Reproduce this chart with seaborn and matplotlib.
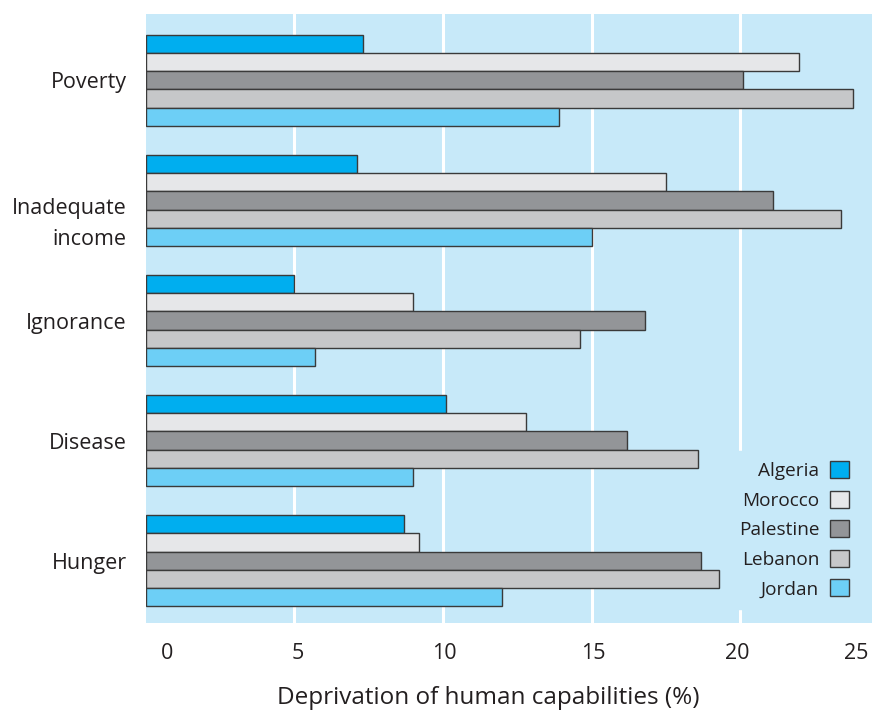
import matplotlib
matplotlib.use("Agg")
import matplotlib.pyplot as plt
import matplotlib.transforms as mtransforms
import seaborn as sns
import pandas as pd

# 데이터
categories = ["Poverty", "Inadequate\nincome", "Ignorance", "Disease", "Hunger"]
countries = ["Algeria", "Morocco", "Palestine", "Lebanon", "Jordan"]
algeria = [7.3, 7.1, 5.0, 10.1, 8.7]
morocco = [22.0, 17.5, 9.0, 12.8, 9.2]
palestine = [20.1, 21.1, 16.8, 16.2, 18.7]
lebanon = [23.8, 23.4, 14.6, 18.6, 19.3]
jordan = [13.9, 15.0, 5.7, 9.0, 12.0]
colors = ["#00aeef", "#e6e7e9", "#939598", "#c6c7c9", "#6dcff6"]
tick_labels = ["0", "5", "10", "15", "20", "25"]

BG = "#c7e9f9"
TXT = "#231f20"

sns.set_theme(style="white")
plt.rcParams['font.family'] = ['Open Sans', 'DejaVu Sans']
plt.rcParams['axes.facecolor'] = BG

rows = []
for name, vals in zip(countries, [algeria, morocco, palestine, lebanon, jordan]):
    for cat, v in zip(categories, vals):
        rows.append({"category": cat, "country": name, "value": v})
df = pd.DataFrame(rows)

fig = plt.figure(figsize=(8.74, 7.13), dpi=100)
ax = fig.add_axes([0.167, 0.126, 0.831, 0.854])

sns.barplot(data=df, y="category", x="value", hue="country", order=categories,
            hue_order=countries, palette=colors, orient="h", width=0.76,
            edgecolor="#3a3a3a", linewidth=1.0, saturation=1, ax=ax, zorder=3)

# 흰색 세로 격자선
for g in [5, 10, 15, 20]:
    ax.axvline(g, color="white", linewidth=2.2, zorder=1)

ax.set_xlim(0, 24.45)
ax.set_ylim(4.52, -0.55)
for s in ax.spines.values():
    s.set_visible(False)

# 눈금 라벨 위치는 원본 그림 그대로
ax.set_xticks([0.7, 5.1, 10.05, 15.05, 19.9, 23.9])
ax.set_xticklabels(tick_labels, fontsize=15.5, color=TXT)
ax.tick_params(axis="x", length=0, pad=14)
ax.tick_params(axis="y", length=0, pad=14)
for lab in ax.get_yticklabels():
    lab.set_fontsize(15.5)
    lab.set_color(TXT)
    lab.set_horizontalalignment("right")
    lab.set_multialignment("right")
    lab.set_linespacing(1.6)
    if "\n" in lab.get_text():
        # 원본에서 두 줄 라벨이 약간 아래로 내려가 있음
        lab.set_transform(lab.get_transform() +
                          mtransforms.ScaledTranslation(0, -0.16, fig.dpi_scale_trans))
ax.set_ylabel("")
ax.set_xlabel("Deprivation of human capabilities (%)", fontsize=17.5,
              color=TXT, labelpad=16)
ax.xaxis.label.set_x(0.471)

leg = ax.legend(loc="lower right", bbox_to_anchor=(0.995, 0.008), markerfirst=False,
                frameon=True, facecolor=BG, edgecolor=BG, framealpha=1,
                fontsize=13.7, handlelength=1.0, handleheight=1.0,
                labelspacing=0.55, handletextpad=0.55, borderpad=0.55,
                borderaxespad=0.5, fancybox=False)
for t in leg.get_texts():
    t.set_color(TXT)
leg.set_zorder(5)
for h in leg.legend_handles:
    h.set_edgecolor("#3a3a3a")
    h.set_linewidth(1.0)

fig.savefig("out.png", dpi=100)
